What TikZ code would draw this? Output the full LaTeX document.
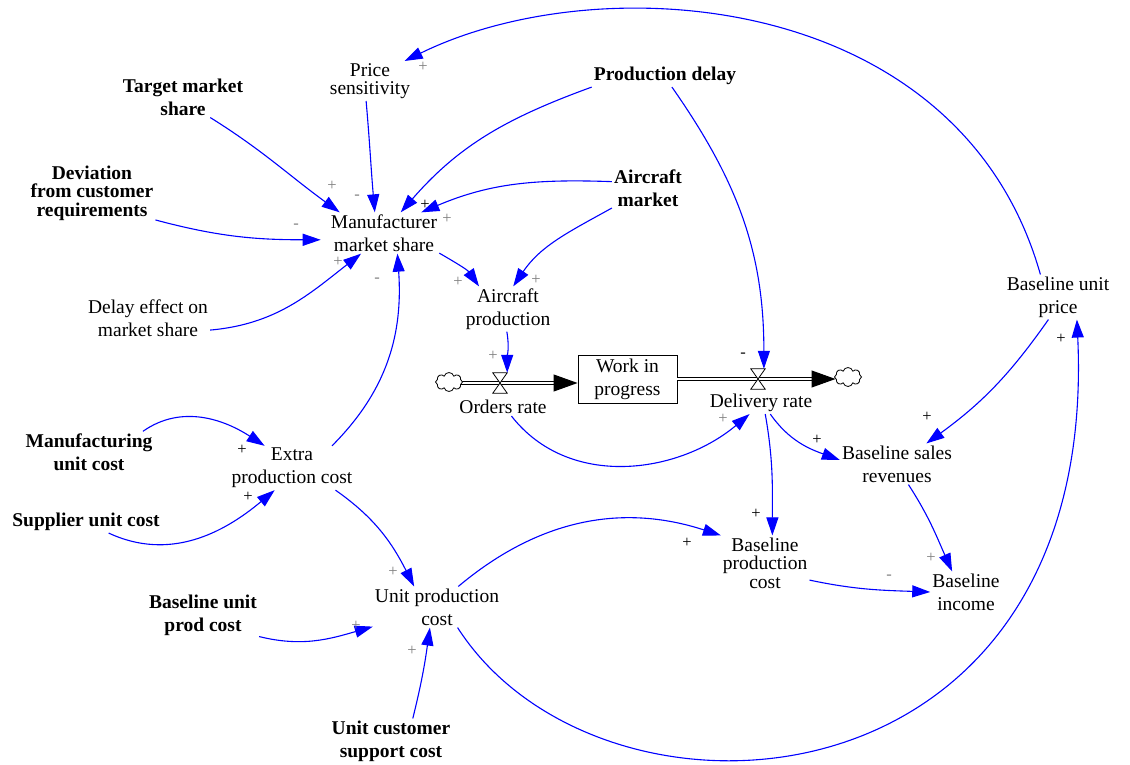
\documentclass[tikz,border=0pt]{standalone}
\usepackage{fontspec}
\setmainfont{Liberation Serif}
\usetikzlibrary{arrows.meta,calc,shapes.symbols}

\tikzset{
    var/.style={align=center, inner sep=2pt, font=\fontsize{19.5}{23}\selectfont},
    exo/.style={var, font=\fontsize{19.5}{23}\selectfont\bfseries},
    tight/.style={font=\fontsize{19.5}{18.5}\selectfont},
    tightbf/.style={font=\fontsize{19.5}{18.5}\selectfont\bfseries},
    link/.style={blue, line width=1.1pt, -{Triangle[length=18pt,width=12pt]}},
    pol/.style={font=\fontsize{16.5}{16.5}\selectfont, inner sep=0pt},
    pipe/.style={double, double distance=2.6pt, line width=1pt},
    flowtip/.style={line width=1pt, -{Triangle[length=24pt,width=17pt]}},
    valve/.style={minimum width=14pt, minimum height=20pt, inner sep=0pt},
    cloudy/.style={cloud, cloud puffs=8, aspect=1.4, draw, fill=white,
        minimum width=27pt, minimum height=19pt, inner sep=0pt, line width=0.8pt}
}

\begin{document}
\begin{tikzpicture}[x=1pt, y=-1pt]
    \useasboundingbox (0,0) rectangle (1130,765);

    % variables
    \node[var, tight] (price) at (370,81) {Price\\sensitivity};
    \node[exo] (target) at (183,97) {Target market\\share};
    \node[exo] (pdelay) at (665,76) {Production delay};
    \node[exo, tightbf] (dev) at (92,193) {Deviation\\from customer\\requirements};
    \node[var] (mms) at (384,233) {Manufacturer\\market share};
    \node[exo] (acmkt) at (648,188) {Aircraft\\market};
    \node[var] (deleff) at (148,318) {Delay effect on\\market share};
    \node[var] (acprod) at (508,309) {Aircraft\\production};
    \node[var, draw, line width=0.9pt, minimum width=99pt, minimum height=48pt] (wip) at (627.5,379) {Work in\\progress};
    \node[var] (orate) at (503,407) {Orders rate};
    \node[var] (drate) at (761,403) {Delivery rate};
    \node[var] (bup) at (1058,297) {Baseline unit\\price};
    \node[exo] (muc) at (89,452) {Manufacturing\\unit cost};
    \node[var] (epc) at (292,468) {Extra\\production cost};
    \node[exo] (suc) at (86,522) {Supplier unit cost};
    \node[var] (bsr) at (897,464) {Baseline sales\\revenues};
    \node[var, tight] (bpc) at (765,563) {Baseline\\production\\cost};
    \node[var] (binc) at (966,592) {Baseline\\income};
    \node[var] (upc) at (437,607) {Unit production\\cost};
    \node[exo] (bupc) at (203,615) {Baseline unit\\prod cost};
    \node[exo] (ucsc) at (391,741) {Unit customer\\support cost};

    % stock and flows
    \node[valve] (v1) at (500,383) {};
    \node[valve] (v2) at (758,379) {};
    \draw[pipe, shorten >=23pt] (449,383) -- (v1 -| wip.west);
    \draw[flowtip] ($(v1 -| wip.west)+(-24,0)$) -- (v1 -| wip.west);
    \draw[pipe, shorten >=23pt] (wip.east) -- (wip.east -| 835.5,0);
    \draw[flowtip] ($(wip.east -| 835.5,0)+(-24,0)$) -- (wip.east -| 835.5,0);
    \draw[fill=white, line width=0.8pt] (v1.north west) -- (v1.north east) -- (v1.south west) -- (v1.south east) -- cycle;
    \draw[fill=white, line width=0.8pt] (v2.north west) -- (v2.north east) -- (v2.south west) -- (v2.south east) -- cycle;
    \node[cloudy] (c1) at (449,382) {};
    \node[cloudy] (c2) at (848,377) {};

    % causal links
    \draw[link] (bup.128) .. controls (960,-10) and (600,-35) .. (price.30);
    \draw[link] (target.-37) to[out=-32,in=144] (mms.155);
    \draw[link] (price.-101) to[out=-85,in=95] (mms.114);
    \draw[link] (pdelay.south west) to[out=200,in=49] (mms.51);
    \draw[link] (acmkt.170) to[out=178,in=23] (mms.29);
    \draw[link] (dev.-23) to[out=-15,in=180] ([xshift=-8pt]mms.187);
    \draw[link] (deleff.-11) to[out=5,in=218] (mms.222);
    \draw[link] (epc.29) to[out=45,in=-86] (mms.303);
    \draw[link] (mms.-20) to[out=-30,in=125] (acprod.142);
    \draw[link] (acmkt.209) to[out=209,in=56] (acprod.77);
    \draw[link] (acprod.267) to[out=-80,in=90] (v1.north east);
    \draw[link] (pdelay.-58) to[out=-55,in=90] (v2.60);
    \draw[link] (orate.-47) to[out=-52,in=220] (drate.224);
    \draw[link] (drate.-69) to[out=-80,in=90] (bpc.75);
    \draw[link] (drate.-50) to[out=-55,in=160] (bsr.176);
    \draw[link] (bup.247) to[out=235,in=36] (bsr.35);
    \draw[link] (bsr.-61) to[out=-57,in=114] (binc.124);
    \draw[link] (bpc.-21) to[out=-12,in=178] (binc.180);
    \draw[link] (muc.21) to[out=35,in=147] (epc.141);
    \draw[link] (suc.-26) to[out=-25,in=220] (epc.232);
    \draw[link] (epc.-27) to[out=-35,in=117] (upc.138);
    \draw[link] (bupc.-21) to[out=-14,in=196] (upc.197);
    \draw[link] (ucsc.46) to[out=76,in=262] (upc.251);
    \draw[link] (upc.44) to[out=40,in=162] (bpc.148);
    \draw[link] (upc.-45) .. controls (600,850) and (1100,820) .. (bup.-50);

    % polarities
    \foreach \x/\y/\s [count=\i] in {423/67/+, 332/186/+, 357/197/-, 447/219/+, 296/226/-,
        338/262/+, 377/280/-, 458/282/+, 536/280/+, 493/356/+, 723/419/+, 931/558/+,
        889/577/-, 393/572/+, 356/626/+, 412/651/+}
        \node[pol, text=gray] (pg\i) at (\x,\y) {\s};
    \foreach \x/\y/\s [count=\i] in {425/205/+, 743/355/-, 817/440/+, 756/514/+, 927/417/+,
        1061/339/+, 242/450/+, 248/497/+, 687/543/+}
        \node[pol] (pk\i) at (\x,\y) {\s};
\end{tikzpicture}
\end{document}
